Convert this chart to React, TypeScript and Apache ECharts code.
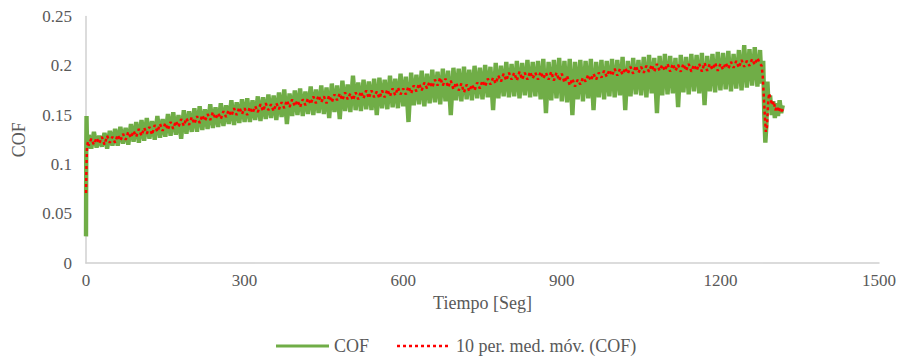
import React, { useEffect, useRef } from "react";
import * as echarts from "echarts";

// ---- data ----
const xTicks = { min: 0, max: 1500, interval: 300 };
const yTicks = { min: 0, max: 0.25, interval: 0.05 };

// COF (green) — first seconds
const cofStartT = [0, 0.5, 1, 2, 3, 4];
const cofStartV = [0.027, 0.115, 0.149, 0.117, 0.13, 0.116];
// COF sampled every 5 s from t = 5 to t = 1275
const cofMainFirstT = 5;
const cofMainStep = 5;
const cofMainV = [
  0.130, 0.116, 0.133, 0.117, 0.129, 0.118, 0.132, 0.116, 0.134, 0.119,
  0.136, 0.119, 0.138, 0.121, 0.137, 0.120, 0.141, 0.123, 0.143, 0.122,
  0.145, 0.124, 0.147, 0.126, 0.144, 0.125, 0.149, 0.127, 0.146, 0.128,
  0.151, 0.129, 0.153, 0.130, 0.150, 0.126, 0.155, 0.131, 0.154, 0.133,
  0.157, 0.133, 0.159, 0.135, 0.156, 0.136, 0.161, 0.137, 0.158, 0.138,
  0.162, 0.139, 0.160, 0.141, 0.165, 0.140, 0.163, 0.142, 0.166, 0.143,
  0.167, 0.143, 0.165, 0.145, 0.169, 0.144, 0.168, 0.146, 0.171, 0.147,
  0.170, 0.145, 0.173, 0.148, 0.176, 0.141, 0.172, 0.149, 0.175, 0.150,
  0.177, 0.149, 0.174, 0.151, 0.179, 0.150, 0.176, 0.152, 0.180, 0.151,
  0.178, 0.147, 0.182, 0.153, 0.180, 0.146, 0.185, 0.154, 0.181, 0.153,
  0.190, 0.155, 0.183, 0.154, 0.186, 0.156, 0.184, 0.155, 0.187, 0.150,
  0.188, 0.157, 0.186, 0.156, 0.190, 0.158, 0.187, 0.157, 0.192, 0.159,
  0.189, 0.143, 0.193, 0.160, 0.191, 0.161, 0.195, 0.159, 0.192, 0.162,
  0.196, 0.163, 0.194, 0.161, 0.197, 0.164, 0.195, 0.150, 0.198, 0.165,
  0.197, 0.164, 0.199, 0.166, 0.196, 0.165, 0.200, 0.167, 0.198, 0.166,
  0.201, 0.168, 0.199, 0.155, 0.203, 0.167, 0.200, 0.169, 0.204, 0.168,
  0.202, 0.169, 0.205, 0.167, 0.203, 0.170, 0.206, 0.168, 0.204, 0.169,
  0.205, 0.166, 0.207, 0.152, 0.204, 0.165, 0.206, 0.167, 0.208, 0.164,
  0.205, 0.163, 0.207, 0.150, 0.204, 0.166, 0.206, 0.164, 0.205, 0.167,
  0.207, 0.155, 0.204, 0.168, 0.206, 0.166, 0.205, 0.169, 0.207, 0.168,
  0.206, 0.170, 0.209, 0.155, 0.205, 0.169, 0.208, 0.171, 0.206, 0.170,
  0.209, 0.168, 0.211, 0.172, 0.208, 0.152, 0.210, 0.170, 0.212, 0.171,
  0.210, 0.172, 0.208, 0.158, 0.211, 0.173, 0.209, 0.171, 0.212, 0.174,
  0.211, 0.172, 0.213, 0.160, 0.210, 0.174, 0.212, 0.173, 0.214, 0.175,
  0.213, 0.176, 0.215, 0.174, 0.212, 0.177, 0.216, 0.175, 0.221, 0.178,
  0.217, 0.180, 0.219, 0.179, 0.216,
];
// COF — end of the test (drop and recovery)
const cofTailT = [1278, 1281, 1283, 1285, 1287, 1289, 1291, 1294, 1297, 1300, 1303, 1306, 1309, 1312, 1315, 1318];
const cofTailV = [0.182, 0.205, 0.150, 0.122, 0.140, 0.184, 0.160, 0.170, 0.150, 0.164, 0.147, 0.162, 0.149, 0.165, 0.152, 0.160];

// 10 per. med. móv. (COF) (red)
const maStartT = [0, 0.5, 1, 1.5, 2, 3, 4];
const maStartV = [0.071, 0.085, 0.100, 0.110, 0.118, 0.121, 0.123];
const maMainFirstT = 5;
const maMainStep = 5;
const maMainV = [
  0.119, 0.126, 0.120, 0.127, 0.121, 0.128, 0.120, 0.129, 0.122, 0.128,
  0.122, 0.130, 0.124, 0.131, 0.125, 0.133, 0.127, 0.134, 0.128, 0.136,
  0.129, 0.137, 0.131, 0.138, 0.130, 0.140, 0.133, 0.141, 0.134, 0.142,
  0.135, 0.143, 0.136, 0.144, 0.138, 0.146, 0.139, 0.147, 0.140, 0.148,
  0.141, 0.149, 0.142, 0.150, 0.144, 0.151, 0.145, 0.153, 0.146, 0.152,
  0.146, 0.154, 0.148, 0.155, 0.149, 0.157, 0.150, 0.158, 0.151, 0.157,
  0.150, 0.158, 0.152, 0.159, 0.153, 0.161, 0.154, 0.162, 0.155, 0.161,
  0.154, 0.162, 0.156, 0.163, 0.157, 0.165, 0.158, 0.166, 0.159, 0.165,
  0.158, 0.166, 0.160, 0.167, 0.161, 0.169, 0.162, 0.170, 0.163, 0.169,
  0.162, 0.170, 0.163, 0.171, 0.165, 0.172, 0.165, 0.173, 0.166, 0.172,
  0.165, 0.173, 0.166, 0.174, 0.167, 0.175, 0.167, 0.175, 0.168, 0.174,
  0.167, 0.175, 0.168, 0.176, 0.169, 0.177, 0.170, 0.178, 0.171, 0.177,
  0.171, 0.179, 0.172, 0.180, 0.174, 0.182, 0.175, 0.183, 0.177, 0.184,
  0.178, 0.186, 0.180, 0.188, 0.180, 0.187, 0.178, 0.185, 0.176, 0.183,
  0.175, 0.182, 0.173, 0.181, 0.174, 0.181, 0.175, 0.183, 0.177, 0.185,
  0.179, 0.187, 0.181, 0.188, 0.182, 0.190, 0.184, 0.192, 0.185, 0.193,
  0.186, 0.193, 0.185, 0.194, 0.186, 0.193, 0.186, 0.194, 0.187, 0.193,
  0.186, 0.194, 0.187, 0.193, 0.186, 0.194, 0.185, 0.193, 0.185, 0.192,
  0.183, 0.190, 0.180, 0.187, 0.179, 0.186, 0.181, 0.188, 0.184, 0.191,
  0.185, 0.192, 0.186, 0.193, 0.188, 0.195, 0.189, 0.196, 0.190, 0.197,
  0.190, 0.197, 0.191, 0.198, 0.192, 0.199, 0.192, 0.200, 0.193, 0.199,
  0.193, 0.200, 0.194, 0.201, 0.194, 0.202, 0.195, 0.201, 0.195, 0.202,
  0.194, 0.202, 0.195, 0.201, 0.194, 0.202, 0.195, 0.202, 0.194, 0.201,
  0.195, 0.202, 0.194, 0.203, 0.195, 0.202, 0.196, 0.203, 0.195, 0.202,
  0.196, 0.203, 0.197, 0.204, 0.198, 0.205, 0.198, 0.206, 0.199, 0.205,
  0.200, 0.207, 0.201, 0.208, 0.202,
];
const maTailT = [1278, 1280, 1282, 1284, 1286, 1288, 1290, 1292, 1295, 1298, 1301, 1304, 1307, 1310, 1313, 1316, 1318];
const maTailV = [0.200, 0.190, 0.170, 0.150, 0.133, 0.138, 0.160, 0.172, 0.166, 0.160, 0.164, 0.155, 0.159, 0.153, 0.157, 0.154, 0.156];

const seriesNames = ["COF", "10 per. med. móv. (COF)"];

function buildSeries(
  startT: number[], startV: number[],
  firstT: number, step: number, mainV: number[],
  tailT: number[], tailV: number[]
): number[][] {
  const out: number[][] = [];
  startT.forEach((t, i) => out.push([t, startV[i]]));
  mainV.forEach((v, i) => out.push([firstT + i * step, v]));
  tailT.forEach((t, i) => out.push([t, tailV[i]]));
  return out;
}

const FONT = "Liberation Serif";
const TEXT = "#595959";
const GREEN = "#70AD47";
const RED = "#FF0000";

export default function App() {
  const ref = useRef<HTMLDivElement>(null);
  useEffect(() => {
    if (!ref.current) return;
    const chart = echarts.init(ref.current, undefined, { renderer: "svg" });
    const cof = buildSeries(cofStartT, cofStartV, cofMainFirstT, cofMainStep, cofMainV, cofTailT, cofTailV);
    const ma = buildSeries(maStartT, maStartV, maMainFirstT, maMainStep, maMainV, maTailT, maTailV);
    const legendY = 346;
    chart.setOption({
      animation: false,
      backgroundColor: "#ffffff",
      textStyle: { fontFamily: FONT },
      grid: { left: 86, right: 18, top: 16.5, bottom: 94, containLabel: false },
      graphic: [
        {
          type: "line",
          shape: { x1: 276, y1: legendY, x2: 329, y2: legendY },
          style: { stroke: GREEN, lineWidth: 3 },
        },
        {
          type: "text",
          x: 334,
          y: legendY,
          style: { text: seriesNames[0], fontFamily: FONT, fontSize: 18, fill: TEXT, verticalAlign: "middle", align: "left" },
        },
        {
          type: "line",
          shape: { x1: 397, y1: legendY, x2: 449, y2: legendY },
          style: { stroke: RED, lineWidth: 2.5, lineDash: [3, 3] },
        },
        {
          type: "text",
          x: 456,
          y: legendY,
          style: { text: seriesNames[1], fontFamily: FONT, fontSize: 18, fill: TEXT, verticalAlign: "middle", align: "left" },
        },
      ],
      xAxis: {
        type: "value",
        min: xTicks.min,
        max: xTicks.max,
        interval: xTicks.interval,
        name: "Tiempo [Seg]",
        nameLocation: "middle",
        nameGap: 31,
        nameTextStyle: { fontFamily: FONT, fontSize: 18, color: TEXT },
        axisLine: { show: true, lineStyle: { color: "#d0d0d0", width: 1.5 } },
        axisTick: { show: false },
        splitLine: { show: false },
        axisLabel: { fontFamily: FONT, fontSize: 17, color: TEXT, margin: 9, formatter: (v: number) => String(v) },
      },
      yAxis: {
        type: "value",
        min: yTicks.min,
        max: yTicks.max,
        interval: yTicks.interval,
        name: "COF",
        nameLocation: "middle",
        nameGap: 58,
        nameTextStyle: { fontFamily: FONT, fontSize: 18, color: TEXT },
        axisLine: { show: true, lineStyle: { color: "#d0d0d0", width: 1.5 } },
        axisTick: { show: false },
        splitLine: { show: false },
        axisLabel: { fontFamily: FONT, fontSize: 17, color: TEXT, margin: 14, formatter: (v: number) => String(Math.round(v * 100) / 100) },
      },
      series: [
        {
          name: seriesNames[0],
          type: "line",
          data: cof,
          symbol: "none",
          lineStyle: { color: GREEN, width: 4.4, join: "miter" },
          itemStyle: { color: GREEN },
          z: 2,
        },
        {
          name: seriesNames[1],
          type: "line",
          data: ma,
          symbol: "none",
          lineStyle: { color: RED, width: 2.5, type: [3, 3] },
          itemStyle: { color: RED },
          z: 3,
        },
      ],
    });
    return () => chart.dispose();
  }, []);
  return (
    <div
      ref={ref}
      style={{ position: "fixed", left: 0, top: 0, width: 899, height: 357, background: "#fff" }}
    />
  );
}
